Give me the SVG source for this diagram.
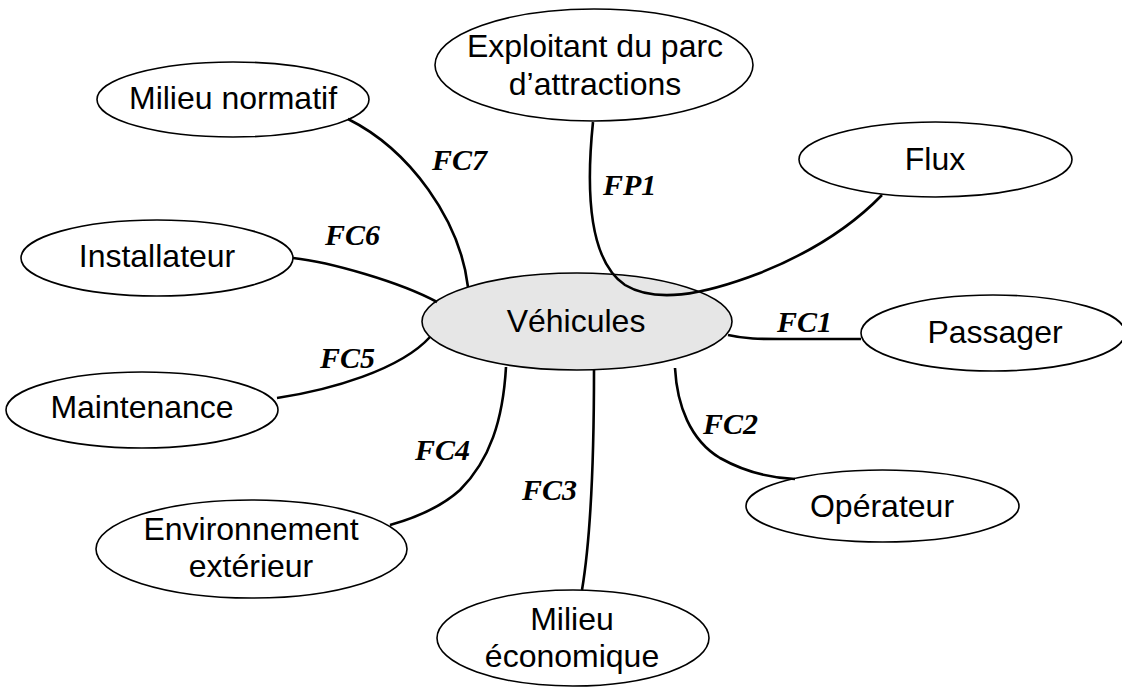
<svg xmlns="http://www.w3.org/2000/svg" width="1122" height="688" viewBox="0 0 1122 688">
<style>
.node ellipse{fill:#fff;stroke:#000;stroke-width:1.6}
#n-vehicules ellipse{fill:#e6e6e6}
.node text{font-family:"Liberation Sans",Arial,sans-serif;font-size:32px;fill:#000;text-anchor:middle}
.conn path{fill:none;stroke:#000;stroke-width:2.6}
.lbl{font-family:"Liberation Serif","Times New Roman",serif;font-size:30px;font-weight:bold;font-style:italic;fill:#000}
</style>
<rect width="1122" height="688" fill="#fff"/>
<g id="n-exploitant" class="node"><ellipse cx="594" cy="65" rx="159" ry="56"/><text x="595" y="57">Exploitant du parc</text><text x="595" y="95">d’attractions</text></g>
<g id="n-normatif" class="node"><ellipse cx="233" cy="99.5" rx="136" ry="37.5"/><text x="233" y="109">Milieu normatif</text></g>
<g id="n-flux" class="node"><ellipse cx="935.5" cy="159.5" rx="136.5" ry="37.5"/><text x="935" y="170">Flux</text></g>
<g id="n-installateur" class="node"><ellipse cx="157" cy="258" rx="136" ry="38"/><text x="157" y="267">Installateur</text></g>
<g id="n-vehicules" class="node"><ellipse cx="577" cy="321.5" rx="155" ry="48.5"/><text x="576" y="332">Véhicules</text></g>
<g id="n-passager" class="node"><ellipse cx="993" cy="333" rx="132" ry="38"/><text x="995" y="343">Passager</text></g>
<g id="n-maintenance" class="node"><ellipse cx="142" cy="410" rx="136" ry="38"/><text x="142" y="418">Maintenance</text></g>
<g id="n-operateur" class="node"><ellipse cx="882.5" cy="506" rx="136.5" ry="36"/><text x="882" y="517">Opérateur</text></g>
<g id="n-environnement" class="node"><ellipse cx="251.5" cy="549" rx="155.5" ry="49"/><text x="251" y="540">Environnement</text><text x="251" y="577">extérieur</text></g>
<g id="n-economique" class="node"><ellipse cx="573" cy="638" rx="136" ry="48"/><text x="572" y="630">Milieu</text><text x="572" y="667">économique</text></g>
<g id="connectors" class="conn">
<path d="M593,122 C586,190 588,260 625,285 C655,303 700,296 760,273 C810,253 850,228 882,195"/>
<path d="M348,119 C410,150 460,220 468,287"/>
<path d="M293,258 C330,262 400,282 437,302"/>
<path d="M277,398 C330,390 400,370 430,337"/>
<path d="M728,335 C745,339 760,339 780,339 L861,339"/>
<path d="M675,368 C677,405 690,440 720,458 C745,472 770,478 795,479"/>
<path d="M594,370 C594,450 592,530 582,590"/>
<path d="M506,367 C503,420 490,460 460,490 C440,508 415,518 390,525"/>
<text class="lbl" x="432" y="170">FC7</text>
<text class="lbl" x="603" y="195">FP1</text>
<text class="lbl" x="325" y="245">FC6</text>
<text class="lbl" x="320" y="368">FC5</text>
<text class="lbl" x="777" y="332">FC1</text>
<text class="lbl" x="703" y="434">FC2</text>
<text class="lbl" x="415" y="460">FC4</text>
<text class="lbl" x="522" y="500">FC3</text>
</g>
</svg>
